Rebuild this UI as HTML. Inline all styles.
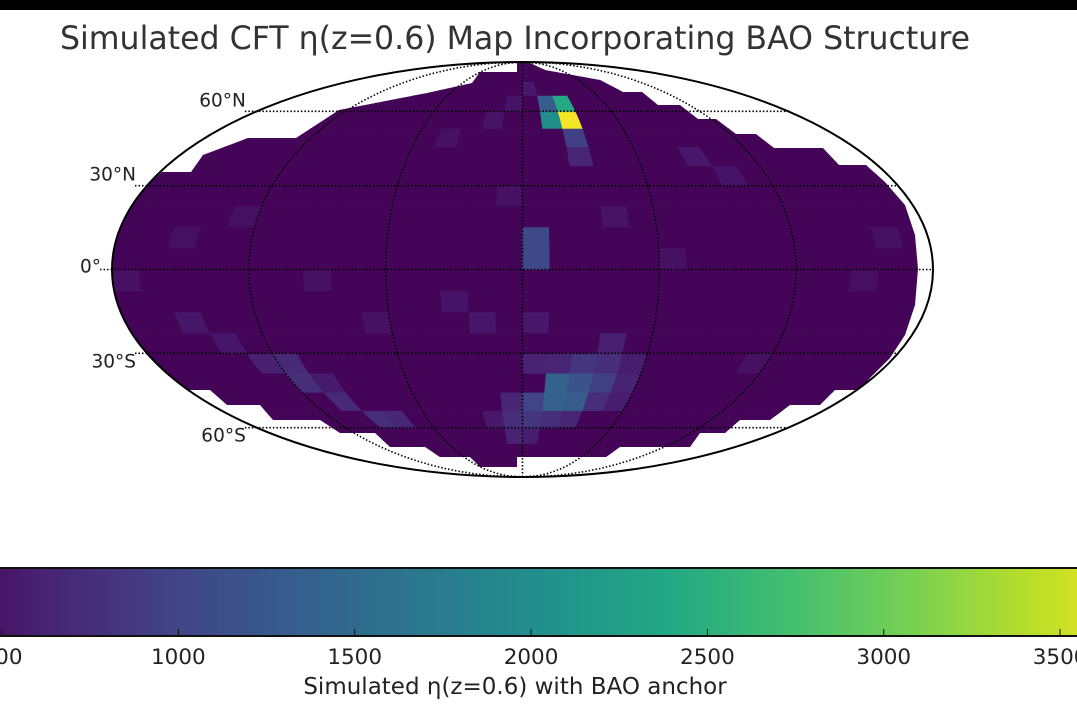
<!DOCTYPE html>
<html><head><meta charset="utf-8">
<style>
html,body{margin:0;padding:0;background:#fff;}
svg{display:block;font-family:"DejaVu Sans","Liberation Sans",sans-serif;}
</style></head>
<body>
<svg id="chart" width="1077" height="712" viewBox="0 0 1077 712" xmlns="http://www.w3.org/2000/svg">
<rect x="0" y="0" width="1077" height="10" fill="#000"/>
<text x="515" y="49" font-size="31.6" fill="#333" text-anchor="middle">Simulated CFT η(z=0.6) Map Incorporating BAO Structure</text>
<defs>
<clipPath id="dataClip"><polygon id="clipPoly" points="517,62 528,62 545,70 600,80 623,92 642,92 658,105 680,105 698,119 716,119 736,134 756,134 774,148 823,148 839,165 866,165 885,182 905,205 915,235 918,269 915,305 905,335 890,358 870,378 860,390 835,390 820,405 790,405 770,420 740,420 725,433 700,433 690,447 620,447 606,457 517,457 517,467 480,467 470,457 440,457 425,447 390,447 375,433 340,433 320,420 273,420 260,405 227,405 210,390 183,390 160,370 140,348 122,320 113,290 112,269 114,240 120,217 138,193 162,172 191,172 203,155 248,138 296,138 339,110 427,93 472,83 480,72 517,72"/></clipPath>
</defs>
<g id="cells" clip-path="url(#dataClip)"></g>
<g id="grat"></g>
<g id="cbar"></g>
</svg>
<script>
// colour range
const vMin = 290;
const vMax = 3793;
const baseValue = 330;
// grid definition (degrees)
const lonStep = 12;
const latStep = 7.5;
// anomalies: longitude, latitude, value
const anomLon = [26,30,18,18,30,30, 6,6, 42,42,42,30,30,18,18,6,-6,6,18,30,42,54,54,6,18,30,-6,6,-6,54,-18, -114,-114,-126,-102,-90,-78,-102,-138,-150, -150,-126,-90,-30,-18,6,-6,42,90,102,150,-6,-18,6,-42,66,-66,-174,162,114];
const anomLat = [56,64,56,64,49,41, 4,11, -26,-34,-41,-41,-49,-41,-49,-49,-56,-56,-56,-56,-49,-34,-41,-34,-34,-34,-49,-64,-64,-49,-56, -34,-41,-34,-49,-56,-56,-41,-26,-19, 11,19,-4,-11,-19,-19,26,19,41,34,-4,64,56,71,49,4,-19,-4,11,-34];
const anomVal = [3750,2400,2000,1300,950,650, 1060,1060, 600,750,950,1200,1300,1400,1350,1000,750,850,750,650,750,580,620,620,650,850,650,580,620,580,520, 700,750,600,700,750,650,550,500,500, 440,440,450,480,500,520,450,470,520,480,440,480,470,520,450,450,450,450,450,450];
// colorbar ticks
const cbTicks = [500,1000,1500,2000,2500,3000,3500];
// graticule
const latLines = [60,30,0,-30,-60];
const latLabels = ["60°N","30°N","0°","30°S","60°S"];
const latLabelDy = [-12,-12,-4,7,7];
const lonLines = [-120,-60,0,60,120];

const VIR = ["#440154","#482475","#414487","#355f8d","#2a788e","#21918c","#22a884","#44bf70","#7ad151","#bddf26","#fde725"];
function hex(h){return [parseInt(h.substr(1,2),16),parseInt(h.substr(3,2),16),parseInt(h.substr(5,2),16)];}
function viridis(t){t=Math.max(0,Math.min(1,t));const p=t*(VIR.length-1);const i=Math.min(VIR.length-2,Math.floor(p));const f=p-i;const a=hex(VIR[i]),b=hex(VIR[i+1]);return "rgb("+a.map((v,k)=>Math.round(v+(b[k]-v)*f)).join(",")+")";}
function colorOf(v){return viridis((v-vMin)/(vMax-vMin));}

const CX=522.5, CY=269.5, A=410.5, B=207.5;
function theta(lat){const phi=lat*Math.PI/180;if(Math.abs(lat)>=90)return Math.sign(lat)*Math.PI/2;let t=phi;for(let i=0;i<30;i++){const f=2*t+Math.sin(2*t)-Math.PI*Math.sin(phi);t-=f/(2+2*Math.cos(2*t));}return t;}
function proj(lon,lat){const t=theta(lat);return [CX+A*(lon/180)*Math.cos(t), CY-B*Math.sin(t)];}

const NS="http://www.w3.org/2000/svg";
function mk(tag,attrs,parent){const e=document.createElementNS(NS,tag);for(const k in attrs)e.setAttribute(k,attrs[k]);parent.appendChild(e);return e;}

const nLon=Math.round(360/lonStep), nLat=Math.round(180/latStep);
const grid=[];for(let j=0;j<nLat;j++){grid.push(new Array(nLon).fill(baseValue));}
for(let k=0;k<anomVal.length;k++){
  const i=Math.min(nLon-1,Math.floor((anomLon[k]+180)/lonStep));
  const j=Math.min(nLat-1,Math.floor((anomLat[k]+90)/latStep));
  grid[j][i]=anomVal[k];
}
const cells=document.getElementById('cells');
for(let j=0;j<nLat;j++){for(let i=0;i<nLon;i++){
  const lo0=-180+i*lonStep, lo1=lo0+lonStep, la0=-90+j*latStep, la1=la0+latStep;
  const pts=[];
  for(let s=0;s<=4;s++){pts.push(proj(lo0,la0+(la1-la0)*s/4));}
  for(let s=4;s>=0;s--){pts.push(proj(lo1,la0+(la1-la0)*s/4));}
  const el=mk('polygon',{points:pts.map(p=>p[0].toFixed(1)+","+p[1].toFixed(1)).join(" "),fill:colorOf(grid[j][i]),stroke:colorOf(grid[j][i]),'stroke-width':0.6},cells);
  
  
}}

const grat=document.getElementById('grat');
lonLines.forEach(lon=>{
  const pts=[];for(let la=-90;la<=90;la+=2)pts.push(proj(lon,la));
  const el=mk('polyline',{points:pts.map(p=>p[0].toFixed(1)+","+p[1].toFixed(1)).join(" "),fill:'none',stroke:'#000','stroke-width':1.6,'stroke-dasharray':'1.5,2'},grat);
  
  
});
latLines.forEach((lat,k)=>{
  const l=proj(-180,lat), r=proj(180,lat);
  const el=mk('line',{x1:l[0]-12,y1:l[1],x2:r[0],y2:r[1],stroke:'#000','stroke-width':1.6,'stroke-dasharray':'1.5,2'},grat);
  
  
  const t=mk('text',{x:l[0]-11,y:l[1]+latLabelDy[k]+7,'font-size':18.5,fill:'#222','text-anchor':'end'},grat);
  t.textContent=latLabels[k];
  
  
});
const oe=mk('ellipse',{cx:CX,cy:CY,rx:A,ry:B,fill:'none',stroke:'#000','stroke-width':2},grat);



const cb=document.getElementById('cbar');
function cbx(v){return 2+(v-500)*0.3527;}
const CBY=568, CBH=68;
for(let x=0;x<1077;x+=2){
  const v=500+(x+1-2)/0.3527;
  const r=mk('rect',{x:x,y:CBY,width:2.6,height:CBH,fill:colorOf(v)},cb);
  
  
}
const bx=mk('rect',{x:-2,y:CBY,width:1081,height:CBH,fill:'none',stroke:'#111','stroke-width':2},cb);


cbTicks.forEach(v=>{
  const x=cbx(v);
  const tk=mk('line',{x1:x,y1:CBY+CBH,x2:x,y2:CBY+CBH-7,stroke:'#111','stroke-width':1},cb);
  
  
  const t=mk('text',{x:x,y:664,'font-size':21.5,fill:'#222','text-anchor':'middle'},cb);
  t.textContent=String(v);
  
  
});
const lab=mk('text',{x:515,y:694,'font-size':23,fill:'#222','text-anchor':'middle'},cb);
lab.textContent='Simulated η(z=0.6) with BAO anchor';


</script>
</body></html>
